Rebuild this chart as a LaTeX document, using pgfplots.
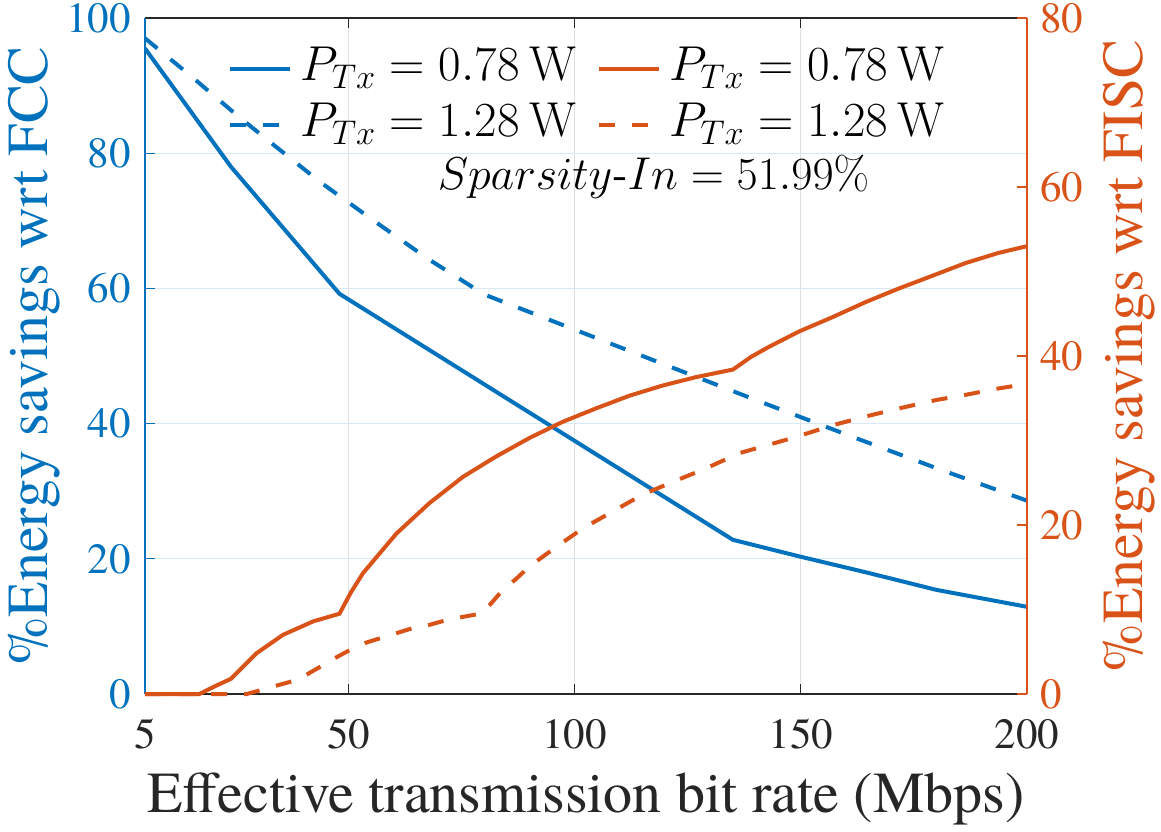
\RequirePackage{fix-cm}
\documentclass[border=0pt]{standalone}
\usepackage[no-math]{fontspec}
\setmainfont{texgyretermes}[Extension=.otf, UprightFont=*-regular, ItalicFont=*-italic, BoldFont=*-bold, BoldItalicFont=*-bolditalic]
\usepackage{pgfplots}
\pgfplotsset{compat=1.18}
\definecolor{mblue}{RGB}{0,114,189}
\definecolor{morange}{RGB}{217,83,25}
\definecolor{mgray}{RGB}{38,38,38}
\definecolor{gridx}{RGB}{223,223,223}
\definecolor{gridy}{RGB}{218,232,245}
\newcommand{\tickfont}{\fontsize{21.5}{21.5}\selectfont}
\newcommand{\labfont}{\fontsize{29}{29}\selectfont}
\newcommand{\legfont}{\fontsize{24.5}{24.5}\selectfont}
\newcommand{\sparfont}{\fontsize{23}{23}\selectfont}

\pgfplotstableread{
x y
5 95.5
24 78.0
48 59.2
135 22.8
150 20.3
165 17.9
180 15.4
200 12.9
}\bluesolid

\pgfplotstableread{
x y
5 97.0
15 91.5
25 85.8
32 82.0
43.6 75.8
55.4 70.1
67.5 64.4
80 59.1
100 53.9
120 48.7
140 43.5
160 38.4
180 33.4
200 28.6
}\bluedashed

\pgfplotstableread{
x y
5 0
17 0
20 0.8
24 1.8
29.6 4.8
35.5 7.0
42.2 8.6
48 9.5
50.5 12.0
53.2 14.3
60.6 19.0
67.9 22.6
75.3 25.7
82.6 28.1
90 30.3
97.3 32.2
104.7 33.8
112.1 35.3
119.4 36.5
126.8 37.5
135 38.4
139 39.9
143 41.1
149.6 42.9
157 44.6
164.4 46.4
171.7 48.0
179.1 49.5
186.4 51.0
193.7 52.2
200 53.0
}\orangesolid

\pgfplotstableread{
x y
5 0
27.5 0
38.8 1.7
44 3.3
47.5 4.4
50.3 5.2
54 6.1
57.6 6.7
60.6 7.2
64.2 7.8
68 8.2
72 8.8
75 9.1
79.6 9.55
84.1 12.3
87 13.6
90 15.1
95.9 17.4
101.8 19.6
108.4 21.6
115 23.6
121.7 25.1
129 26.7
136.4 28.5
148.8 30.4
157 31.8
164 32.8
171.7 33.8
180 34.8
186.4 35.4
193 36.1
200 36.7
}\orangedashed

\begin{document}
\begin{tikzpicture}
\pgfplotsset{
  common/.style={
    scale only axis, width=441pt, height=338pt,
    xmin=5, xmax=200,
    at={(0pt,0pt)}, anchor=south west,
    /pgf/number format/assume math mode=true,
    tick label style={font=\tickfont, inner sep=0pt},
    major tick length=5pt,
  },
  dashy/.style={dash pattern=on 8pt off 8.5pt},
}
\begin{axis}[common,
  separate axis lines,
  tick align=inside,
  ymin=0, ymax=100,
  xtick={5,50,100,150,200},
  ytick={0,20,...,100},
  xtick pos=both, xticklabel pos=lower,
  ytick pos=left,
  x axis line style={draw=mgray, line width=0.6pt},
  y axis line style={draw=mblue, line width=0.6pt},
  xtick style={draw=mgray, line width=0.6pt},
  ytick style={draw=mblue, line width=0.6pt},
  xticklabel style={text=mgray, anchor=north, yshift=-12.5pt},
  yticklabel style={text=mblue, anchor=east, xshift=-7pt},
  xmajorgrids, ymajorgrids,
  x grid style={draw=gridx, line width=0.5pt},
  y grid style={draw=gridy, line width=0.5pt},
  xlabel={Effective transmission bit rate (Mbps)},
  xlabel style={font=\labfont, text=mgray, at={(axis description cs:0.5,-0.176)}, anchor=base, inner sep=0pt},
  ylabel={\%Energy savings wrt FCC},
  ylabel style={font=\labfont, text=mblue, at={(axis description cs:-0.110,0.5)}, anchor=base, inner sep=0pt},
  legend columns=2,
  legend cell align=left,
  legend image code/.code={\draw[#1] (0pt,0pt) -- (30pt,0pt);},
  legend style={draw=none, fill=none, inner sep=0pt, outer sep=0pt,
    at={(axis description cs:0.0941,0.966)}, anchor=north west,
    font=\legfont,
    nodes={inner sep=0pt, text height=20pt, text depth=8pt},
    /tikz/every odd column/.append style={column sep=4.5pt},
    /tikz/every even column/.append style={column sep=10pt},
    row sep=0pt},
]
\addplot[mblue, line width=2pt] table[x=x,y=y] {\bluesolid};
\addlegendentry{$P_{Tx} = 0.78\mkern3.5mu\mathrm{W}$}
\addlegendimage{morange, line width=2pt}
\addlegendentry{$P_{Tx} = 0.78\mkern3.5mu\mathrm{W}$}
\addplot[mblue, line width=2pt, dashy] table[x=x,y=y] {\bluedashed};
\addlegendentry{$P_{Tx} = 1.28\mkern3.5mu\mathrm{W}$}
\addlegendimage{morange, line width=2pt, dashy}
\addlegendentry{$P_{Tx} = 1.28\mkern3.5mu\mathrm{W}$}
\node[font=\sparfont, anchor=base, inner sep=0pt] at (axis description cs:0.5765,0.7456) {$Sparsity$-$In = 51.99\%$};
\end{axis}
\begin{axis}[common,
  ymin=0, ymax=80, ytick={0,20,...,80},
  axis x line=none, xtick=\empty,
  axis y line=right,
  tick align=inside,
  y axis line style={-, draw=morange, line width=0.6pt},
  ytick style={draw=morange, line width=0.6pt},
  yticklabel style={text=morange, anchor=west, xshift=6.5pt},
  ylabel={\%Energy savings wrt FISC},
  ylabel style={font=\labfont, text=morange, at={(axis description cs:1.1304,0.5)}, anchor=base, inner sep=0pt},
  clip=false,
]
\addplot[morange, line width=2pt] table[x=x,y=y] {\orangesolid};
\addplot[morange, line width=2pt, dashy] table[x=x,y=y] {\orangedashed};
\end{axis}
\pgfresetboundingbox
\path (-72.5pt,-68.5pt) rectangle (508pt,347pt);
\end{tikzpicture}
\end{document}
